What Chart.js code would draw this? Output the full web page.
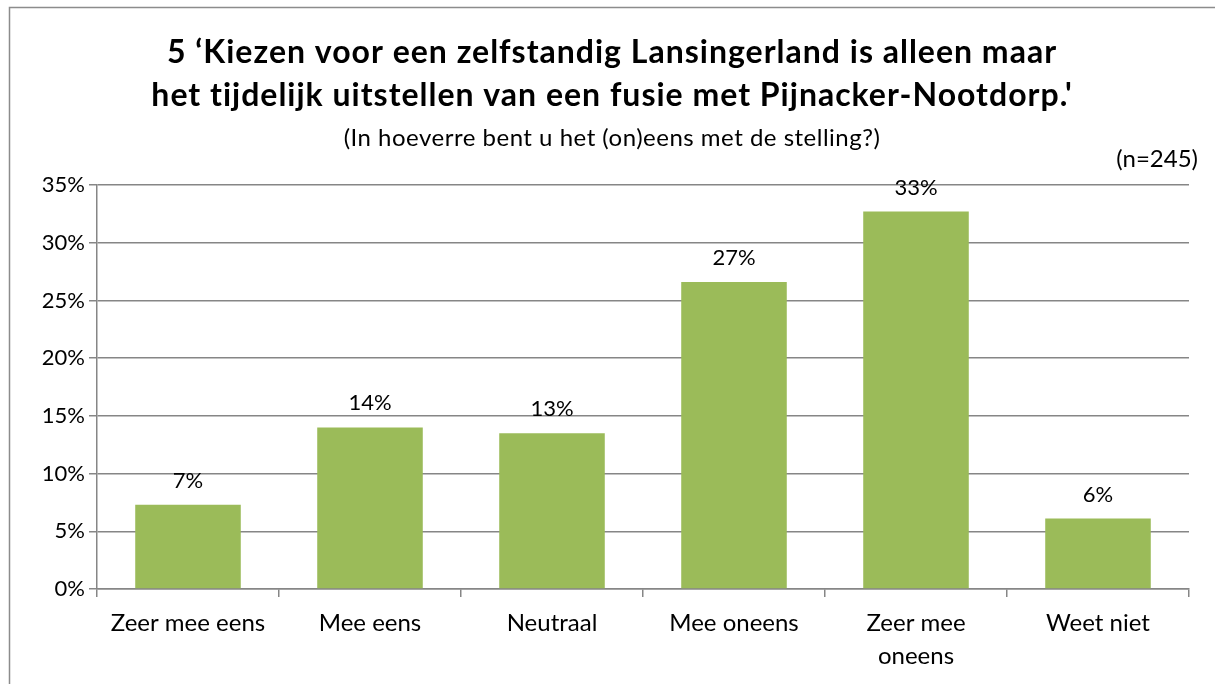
<!DOCTYPE html>
<html><head><meta charset="utf-8">
<script src="https://cdn.jsdelivr.net/npm/chart.js@4.4.1/dist/chart.umd.min.js"></script>
<style>html,body{margin:0;padding:0;background:#fff;overflow:hidden}#wrap{width:1215px;height:684px}</style>
</head><body><div id="wrap"><canvas id="c" width="1215" height="684"></canvas></div>
<script>
const titleLines = ["5 \u2018Kiezen voor een zelfstandig Lansingerland is alleen maar", "het tijdelijk uitstellen van een fusie met Pijnacker-Nootdorp.'"];
const subtitleText = "(In hoeverre bent u het (on)eens met de stelling?)";
const sampleNote = "(n=245)";
const categories = ["Zeer mee eens", "Mee eens", "Neutraal", "Mee oneens", ["Zeer mee", "oneens"], "Weet niet"];
const values = [7.3, 14.0, 13.5, 26.6, 32.7, 6.1];
const valueLabels = ["7%", "14%", "13%", "27%", "33%", "6%"];
const yMin = 0, yMax = 35, yStep = 5;

const FONT = "Lato, 'Open Sans', sans-serif";
const GRID = "#868686";
const BAR = "#9BBB59";

const decor = {
  id: 'decor',
  beforeDraw(chart) {
    const ctx = chart.ctx;
    ctx.save();
    ctx.fillStyle = '#fff';
    ctx.fillRect(0, 0, chart.width, chart.height);
    ctx.strokeStyle = '#8c8c8c';
    ctx.lineWidth = 1.5;
    ctx.strokeRect(9.5, 7.5, chart.width + 20, chart.height + 20);
    ctx.restore();
  },
  afterDraw(chart) {
    const ctx = chart.ctx;
    ctx.save();
    ctx.fillStyle = '#000';
    ctx.textBaseline = 'alphabetic';
    ctx.textAlign = 'center';
    // title
    ctx.font = "bold 32px " + FONT;
    ctx.letterSpacing = '1px';
    ctx.fillText(titleLines[0], 612, 63);
    ctx.fillText(titleLines[1], 612, 106);
    // subtitle
    ctx.font = "24px " + FONT;
    ctx.letterSpacing = '0.5px';
    ctx.fillText(subtitleText, 612, 146);
    // sample size
    ctx.letterSpacing = '0px';
    ctx.textAlign = 'right';
    ctx.font = "24px " + FONT;
    ctx.fillText(sampleNote, 1198, 167);
    // value labels
    ctx.font = "22px " + FONT;
    ctx.textAlign = 'center';
    ctx.textBaseline = 'middle';
    const meta = chart.getDatasetMeta(0);
    meta.data.forEach((bar, i) => {
      ctx.fillText(valueLabels[i], bar.x, bar.y - 24);
    });
    ctx.restore();
  }
};

new Chart(document.getElementById('c'), {
  type: 'bar',
  data: {
    labels: categories,
    datasets: [{
      data: values,
      backgroundColor: BAR,
      borderWidth: 0,
      categoryPercentage: 1.0,
      barPercentage: 0.58
    }]
  },
  options: {
    responsive: false,
    animation: false,
    layout: { padding: { left: 0, right: 26, top: 185, bottom: 0 } },
    plugins: {
      legend: { display: false },
      tooltip: { enabled: false },
      title: { display: false },
      subtitle: { display: false }
    },
    scales: {
      x: {
        afterFit(s) { s.height = 95; },
        grid: { display: true, drawOnChartArea: false, drawTicks: true, tickLength: 8, color: GRID, lineWidth: 1.5, offset: true },
        border: { display: true, color: GRID, width: 1.5 },
        ticks: { color: '#000', font: { family: FONT, size: 24, lineHeight: 1.375 }, padding: 10, maxRotation: 0, autoSkip: false }
      },
      y: {
        min: yMin, max: yMax,
        afterFit(s) { s.width = 97; },
        grid: { color: GRID, lineWidth: 1.5, tickLength: 8, drawTicks: true },
        border: { display: true, color: GRID, width: 1.5 },
        ticks: { stepSize: yStep, color: '#000', font: { family: FONT, size: 22 }, padding: 4, callback: v => v + '%' }
      }
    }
  },
  plugins: [decor]
});
</script></body></html>
